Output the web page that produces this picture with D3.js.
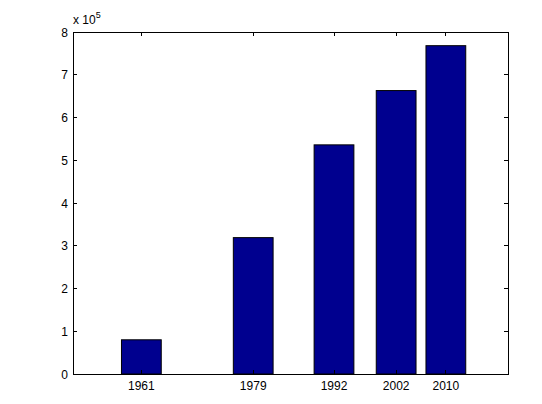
<!DOCTYPE html>
<html><head><meta charset="utf-8">
<script src="https://cdn.jsdelivr.net/npm/d3@7"></script>
<style>body{margin:0;background:#fff}svg{display:block}text{font-family:"Liberation Sans",Arial,sans-serif;font-size:12px;fill:#000}</style>
</head><body>
<script>
const years = [1961, 1979, 1992, 2002, 2010];
const values = [0.80, 3.19, 5.36, 6.63, 7.68]; // x 10^5
const yTicks = [0,1,2,3,4,5,6,7,8];
const xTickLabels = ["1961","1979","1992","2002","2010"];

const W=542,H=404, L=73, T=32, R=508, B=374;
const svg=d3.select("body").append("svg").attr("width",W).attr("height",H);
const x=d3.scaleLinear().domain([1950,2020]).range([L,R]);
const y=d3.scaleLinear().domain([0,8]).range([B,T]);
const bw = x(1950+6.4)-x(1950);

svg.selectAll("rect.bar").data(years).enter().append("rect")
  .attr("x",(d)=>x(d)-bw/2).attr("y",(d,i)=>y(values[i]))
  .attr("width",bw).attr("height",(d,i)=>y(0)-y(values[i]))
  .attr("fill","#00008f").attr("stroke","#000").attr("stroke-width",1);

const tl=4;
// axes box
const g=svg.append("g").attr("stroke","#000").attr("fill","none").attr("shape-rendering","crispEdges");
g.append("rect").attr("x",L).attr("y",T).attr("width",R-L).attr("height",B-T);
yTicks.forEach(v=>{
  g.append("line").attr("x1",L).attr("x2",L+tl).attr("y1",y(v)).attr("y2",y(v));
  g.append("line").attr("x1",R).attr("x2",R-tl).attr("y1",y(v)).attr("y2",y(v));
});
years.forEach(v=>{
  g.append("line").attr("x1",x(v)).attr("x2",x(v)).attr("y1",B).attr("y2",B-tl);
  g.append("line").attr("x1",x(v)).attr("x2",x(v)).attr("y1",T).attr("y2",T+tl);
});
svg.selectAll("text.yt").data(yTicks).enter().append("text")
  .attr("x",L-5).attr("y",d=>y(d)+4.5).attr("text-anchor","end").text(d=>d);
svg.selectAll("text.xt").data(years).enter().append("text")
  .attr("x",d=>x(d)).attr("y",B+16).attr("text-anchor","middle").text((d,i)=>xTickLabels[i]);
const ex=svg.append("text").attr("x",L).attr("y",T-8);
ex.append("tspan").text("x 10");
ex.append("tspan").attr("dy",-6).style("font-size","9px").text("5");
</script>
</body></html>
